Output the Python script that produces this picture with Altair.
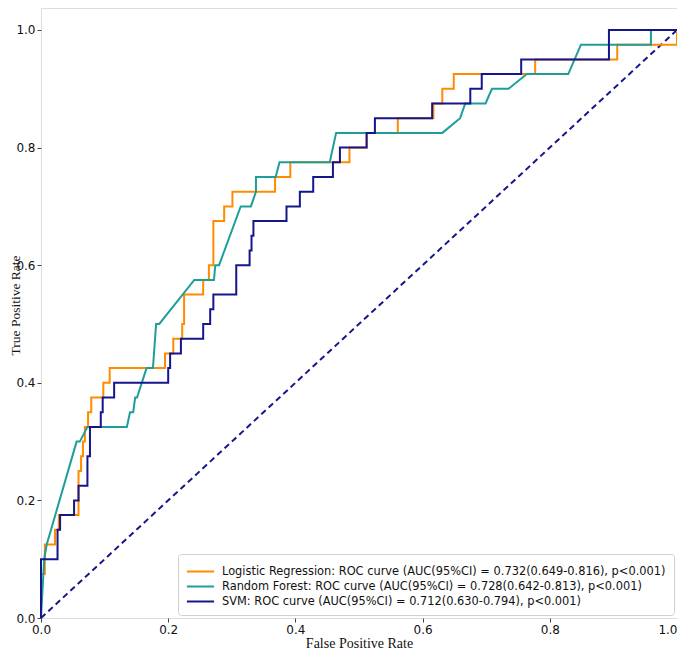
import altair as alt
import pandas as pd

# ---- data ----
series_names = [
    "Logistic Regression: ROC curve (AUC(95%CI) = 0.732(0.649-0.816), p<0.001)",
    "Random Forest: ROC curve (AUC(95%CI) = 0.728(0.642-0.813), p<0.001)",
    "SVM: ROC curve (AUC(95%CI) = 0.712(0.630-0.794), p<0.001)",
]
series_colors = ["#ff8c00", "#1f9e99", "#16168c"]

lr_fpr = [0, 0, 0.006, 0.006, 0.022, 0.022, 0.028, 0.028, 0.059, 0.059, 0.063, 0.063, 0.066, 0.066,
          0.069, 0.069, 0.074, 0.074, 0.079, 0.079, 0.098, 0.098, 0.108, 0.108, 0.195, 0.195,
          0.208, 0.208, 0.222, 0.222, 0.225, 0.225, 0.255, 0.255, 0.264, 0.264, 0.271, 0.271,
          0.288, 0.288, 0.301, 0.301, 0.368, 0.368, 0.392, 0.392, 0.485, 0.485, 0.512, 0.512,
          0.561, 0.561, 0.617, 0.617, 0.631, 0.631, 0.649, 0.649, 0.777, 0.777, 0.906, 0.906,
          1.0, 1.0]
lr_tpr = [0, 0.075, 0.075, 0.125, 0.125, 0.15, 0.15, 0.175, 0.175, 0.25, 0.25, 0.275, 0.275, 0.3,
          0.3, 0.325, 0.325, 0.35, 0.35, 0.375, 0.375, 0.4, 0.4, 0.425, 0.425, 0.45,
          0.45, 0.475, 0.475, 0.5, 0.5, 0.55, 0.55, 0.575, 0.575, 0.6, 0.6, 0.675,
          0.675, 0.7, 0.7, 0.725, 0.725, 0.75, 0.75, 0.775, 0.775, 0.8, 0.8, 0.825,
          0.825, 0.85, 0.85, 0.875, 0.875, 0.9, 0.9, 0.925, 0.925, 0.95, 0.95, 0.975,
          0.975, 1.0]

rf_fpr = [0, 0.005, 0.009, 0.056, 0.061, 0.073, 0.135, 0.14, 0.145, 0.148, 0.151, 0.166, 0.176,
          0.181, 0.186, 0.241, 0.272, 0.274, 0.28, 0.314, 0.33, 0.338, 0.338, 0.369, 0.375,
          0.454, 0.464, 0.631, 0.659, 0.667, 0.699, 0.709, 0.735, 0.764, 0.829, 0.849, 0.959,
          0.959, 1.0]
rf_tpr = [0, 0.1, 0.125, 0.3, 0.3, 0.325, 0.325, 0.35, 0.35, 0.375, 0.375, 0.425, 0.425,
          0.5, 0.5, 0.575, 0.575, 0.6, 0.6, 0.7, 0.7, 0.725, 0.75, 0.75, 0.775,
          0.775, 0.825, 0.825, 0.85, 0.875, 0.875, 0.9, 0.9, 0.925, 0.925, 0.975, 0.975,
          1.0, 1.0]

svm_fpr = [0, 0, 0.026, 0.026, 0.03, 0.03, 0.052, 0.052, 0.059, 0.059, 0.073, 0.073, 0.077, 0.077,
           0.094, 0.094, 0.097, 0.097, 0.115, 0.115, 0.2, 0.2, 0.203, 0.203, 0.22, 0.22,
           0.255, 0.255, 0.266, 0.266, 0.271, 0.271, 0.307, 0.307, 0.328, 0.328, 0.331, 0.331,
           0.334, 0.334, 0.386, 0.386, 0.407, 0.407, 0.428, 0.428, 0.459, 0.459, 0.47, 0.47,
           0.512, 0.512, 0.525, 0.525, 0.615, 0.615, 0.675, 0.675, 0.693, 0.693, 0.755, 0.755,
           0.893, 0.893, 1.0]
svm_tpr = [0, 0.1, 0.1, 0.15, 0.15, 0.175, 0.175, 0.2, 0.2, 0.225, 0.225, 0.275, 0.275, 0.325,
           0.325, 0.35, 0.35, 0.375, 0.375, 0.4, 0.4, 0.425, 0.425, 0.45, 0.45, 0.475,
           0.475, 0.5, 0.5, 0.525, 0.525, 0.55, 0.55, 0.6, 0.6, 0.625, 0.625, 0.65,
           0.65, 0.675, 0.675, 0.7, 0.7, 0.725, 0.725, 0.75, 0.75, 0.775, 0.775, 0.8,
           0.8, 0.825, 0.825, 0.85, 0.85, 0.875, 0.875, 0.9, 0.9, 0.925, 0.925, 0.95,
           0.95, 1.0, 1.0]

diag_x = [0, 1]
diag_y = [0, 1]

tick_values = [0.0, 0.2, 0.4, 0.6, 0.8, 1.0]

# ---- build table ----
rows = []
for name, fx, ty in zip(series_names, [lr_fpr, rf_fpr, svm_fpr], [lr_tpr, rf_tpr, svm_tpr]):
    for i, (a, b) in enumerate(zip(fx, ty)):
        rows.append({"model": name, "fpr": a, "tpr": b, "idx": i})
df = pd.DataFrame(rows)
diag = pd.DataFrame({"fpr": diag_x, "tpr": diag_y})

W, H = 636, 610
tick_font = "DejaVu Sans"
title_font = "Liberation Serif"

x_enc = alt.X("fpr:Q", scale=alt.Scale(domain=[0, 1], nice=False, zero=False),
              axis=alt.Axis(values=tick_values, format=".1f", title="False Positive Rate",
                            grid=False, domain=False, tickSize=4, tickColor="#444",
                            labelFont=tick_font, labelFontSize=12, labelColor="#111",
                            labelPadding=2, labelFlush=False,
                            labelAlign=alt.ExprRef(expr="datum.value >= 1 ? 'right' : 'center'"),
                            titleFont=title_font, titleFontSize=14, titleFontWeight="normal",
                            titleColor="#111", titleY=29, titleBaseline="alphabetic"))
y_enc = alt.Y("tpr:Q", scale=alt.Scale(domain=[0, 1.0374], nice=False, zero=False),
              axis=alt.Axis(values=tick_values, format=".1f", title="True Positive Rate",
                            grid=False, domain=False, tickSize=4, tickColor="#444",
                            labelFont=tick_font, labelFontSize=12, labelColor="#111",
                            labelPadding=2,
                            titleFont=title_font, titleFontSize=13.5, titleFontWeight="normal",
                            titleColor="#111", titleAngle=270, titleX=-22, titleY=H / 2 - 8,
                            titleAlign="center", titleBaseline="alphabetic"))

curves = alt.Chart(df).mark_line(strokeWidth=2, interpolate="linear").encode(
    x=x_enc,
    y=y_enc,
    color=alt.Color("model:N",
                    scale=alt.Scale(domain=series_names, range=series_colors),
                    sort=series_names,
                    legend=alt.Legend(title=None, orient="none", legendX=137, legendY=546,
                                      symbolType="M-1.6,0H1.6", symbolSize=289,
                                      symbolStrokeWidth=2, symbolOffset=5,
                                      labelFont=tick_font, labelFontSize=11.4, labelColor="#111",
                                      labelLimit=700, labelOffset=12, rowPadding=0, padding=8,
                                      strokeColor="#d0d0d0", fillColor="white",
                                      cornerRadius=3, offset=0)),
    order="idx:Q",
)

diagonal = alt.Chart(diag).mark_line(strokeWidth=2, strokeDash=[6, 4], color="#16168c").encode(
    x="fpr:Q", y="tpr:Q"
)

chart = alt.layer(diagonal, curves).properties(
    width=W, height=H,
    autosize=alt.AutoSizeParams(type="none"),
    padding={"left": 33, "top": 0, "right": 0, "bottom": 33},
).configure_view(stroke="#666", strokeWidth=1).configure(background="white")

chart.save("out.html", embed_options={"renderer": "svg", "actions": False})
